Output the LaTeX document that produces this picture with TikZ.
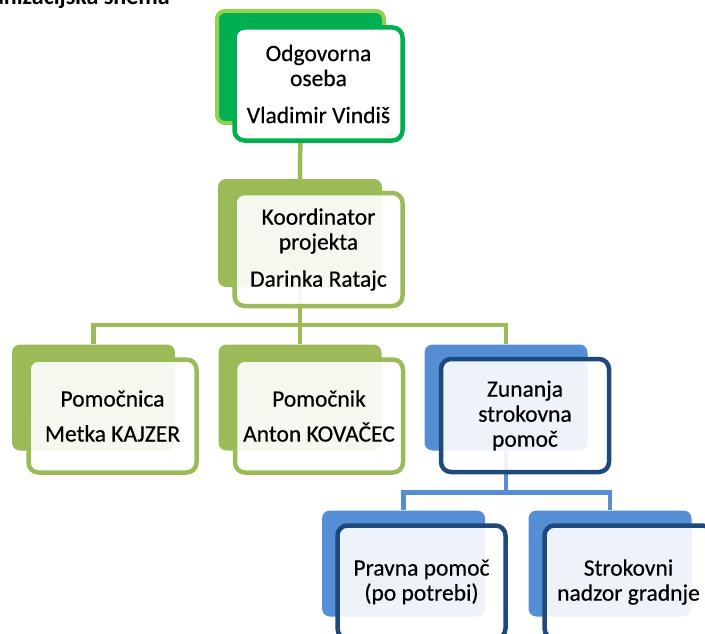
\documentclass[tikz,border=0pt]{standalone}
\usepackage{fontspec}
\setmainfont{Carlito}
\newfontfamily\okvirfont{Carlito}[FakeBold=0.4]
\usetikzlibrary{backgrounds}

% Barve sheme
\definecolor{zelena}{HTML}{00B050}
\definecolor{svetlozelena}{HTML}{92D050}
\definecolor{olivna}{HTML}{9BBB59}
\definecolor{modra}{HTML}{558ED5}
\definecolor{temnomodra}{HTML}{1F497D}

\begin{document}
\begin{tikzpicture}[x=1pt, y=-1pt, % 1 pt = 1 px, y navzdol
    zadaj/.style={rectangle, rounded corners=8pt, inner sep=0pt, minimum width=163pt, minimum height=106pt},
    spredaj/.style={rectangle, rounded corners=10pt, line width=4.5pt, inner sep=0pt, minimum width=168pt, minimum height=113pt,
        fill=white, fill opacity=0.9, text opacity=1, align=center, font=\okvirfont\fontsize{23.5}{25}\selectfont},
    vezaZ/.style={olivna, line width=4.5pt},
    vezaM/.style={modra, line width=4.5pt}]

    % Okvir slike
    \useasboundingbox (0,0) rectangle (705,634);
    \clip (0,0) rectangle (705,634);

    % Naslov (odrezan na vrhu)
    \node[anchor=base east, inner sep=0pt, font=\fontsize{24}{26}\selectfont\bfseries] (naslov) at (170,5) {Organizacijska shema};

    % Odgovorna oseba
    \node[zadaj, fill=zelena, draw=svetlozelena, line width=4pt, minimum width=167pt, minimum height=112pt] (odgB) at (300.5,67) {};
    \node[spredaj, draw=zelena, fill opacity=1] (odg) at (318.5,84) {Odgovorna\\oseba\\[12pt]Vladimir Vindiš};

    % Koordinator
    \node[zadaj, fill=olivna, minimum width=164pt, minimum height=108pt] (korB) at (300,233) {};
    \node[spredaj, draw=olivna] (kor) at (318.5,249.5) {Koordinator\\projekta\\[12pt]Darinka Ratajc};

    % Pomocnika
    \node[zadaj, fill=olivna] (pomcaB) at (93.5,397.5) {};
    \node[spredaj, draw=olivna] (pomca) at (112.5,416) {Pomočnica\\[10pt]Metka KAJZER};

    \node[zadaj, fill=olivna] (pomB) at (300,397.5) {};
    \node[spredaj, draw=olivna] (pom) at (319,416) {Pomočnik\\[10pt]Anton KOVAČEC};

    % Zunanja pomoc
    \node[zadaj, fill=modra] (zunB) at (506,397.5) {};
    \node[spredaj, draw=temnomodra] (zun) at (525,415.5) {Zunanja\\strokovna\\pomoč};

    \node[zadaj, fill=modra] (pravB) at (403.5,563.5) {};
    \node[spredaj, draw=temnomodra] (prav) at (421.5,582) {Pravna pomoč\\(po potrebi)};

    \node[zadaj, fill=modra] (strB) at (610,563.5) {};
    \node[spredaj, draw=temnomodra] (str) at (628.5,582) {Strokovni\\nadzor gradnje};

    % Povezave (za okvirji)
    \begin{scope}[on background layer]
        \draw[vezaZ] (odgB.south) -- (korB.north);
        \draw[vezaZ] (korB.south) -- ++(0,38) coordinate (razcep) -| (pomcaB.north);
        \draw[vezaZ] (razcep) -- (pomB.north);
        \draw[vezaZ] (razcep) -| (zunB.north);
        \draw[vezaM] (zunB.south) -- ++(0,42) coordinate (razcepM) -| (pravB.north);
        \draw[vezaM] (razcepM) -| (strB.north);
    \end{scope}

\end{tikzpicture}
\end{document}
